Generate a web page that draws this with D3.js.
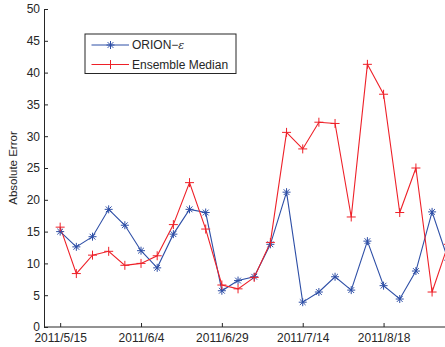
<!DOCTYPE html>
<html>
<head>
<meta charset="utf-8">
<script src="https://cdn.jsdelivr.net/npm/d3@7"></script>
<style>
  html, body { margin: 0; padding: 0; background: #fff; }
  svg { display: block; }
  text { font-family: "Liberation Sans", Arial, Helvetica, sans-serif; fill: #262626; }
</style>
</head>
<body>
<svg id="chart" width="445" height="347"></svg>
<script>
// ---- data ----
const pointIndex = d3.range(1, 26);           // observation number (x axis is index-based)
const orion = [15.0, 12.6, 14.2, 18.5, 16.0, 12.0, 9.3, 14.6, 18.5, 18.0,
               5.7, 7.3, 7.9, 13.0, 21.2, 3.9, 5.5, 7.9, 5.8, 13.5,
               6.5, 4.4, 8.8, 18.1, 10.5];
const ensembleMedian = [15.7, 8.4, 11.3, 11.9, 9.7, 10.0, 11.2, 16.1, 22.7, 15.4,
               6.6, 6.0, 7.8, 13.3, 30.6, 28.0, 32.2, 32.0, 17.3, 41.3,
               36.6, 18.0, 25.0, 5.5, 13.0];
const xTickIndex = [1, 6, 11, 16, 21];
const xTickLabels = ["2011/5/15", "2011/6/4", "2011/6/29", "2011/7/14", "2011/8/18"];
const yTicks = [0, 5, 10, 15, 20, 25, 30, 35, 40, 45, 50];
const seriesNames = ["ORION\u2212", "Ensemble Median"];

// ---- layout ----
const W = 445, H = 347;
const mLeft = 44, mBottom = 327, mTop = 9;
const step = 16.17;
const svg = d3.select("#chart");

const x = d3.scaleLinear().domain([0, 26]).range([mLeft, mLeft + 26 * step]);
const y = d3.scaleLinear().domain([0, 50]).range([mBottom, mTop]);

const blue = "#2d4ea6";
const red = "#ee2028";
const axisColor = "#262626";

svg.append("defs").append("clipPath").attr("id", "clip")
  .append("rect").attr("x", mLeft).attr("y", 0).attr("width", W - mLeft).attr("height", mBottom + 6);

// ---- axes ----
const yAxis = d3.axisLeft(y).tickValues(yTicks).tickSize(-4).tickSizeOuter(0).tickPadding(4);
const gy = svg.append("g").attr("transform", `translate(${mLeft},0)`).call(yAxis);
gy.selectAll("text").style("font-size", "12px").attr("fill", axisColor);
gy.selectAll("line, path").attr("stroke", axisColor);

const xAxis = d3.axisBottom(x).tickValues(xTickIndex)
  .tickFormat((d, i) => xTickLabels[i]).tickSize(-4).tickSizeOuter(0).tickPadding(6.5);
const gx = svg.append("g").attr("transform", `translate(0,${mBottom})`).call(xAxis);
gx.select(".domain").attr("d", `M${mLeft},0H${W}`);
gx.selectAll("text").style("font-size", "12px").attr("fill", axisColor);
gx.selectAll("line, path").attr("stroke", axisColor);

svg.append("text")
  .attr("transform", `translate(17,${(mTop + mBottom) / 2}) rotate(-90)`)
  .attr("text-anchor", "middle")
  .style("font-size", "11.5px")
  .text("Absolute Error");

// ---- marker helpers ----
function star(g, cx, cy, color) {
  const r = 4;
  const p = `M${cx - r},${cy}H${cx + r}M${cx},${cy - r}V${cy + r}` +
            `M${cx - r * 0.72},${cy - r * 0.72}L${cx + r * 0.72},${cy + r * 0.72}` +
            `M${cx - r * 0.72},${cy + r * 0.72}L${cx + r * 0.72},${cy - r * 0.72}`;
  g.append("path").attr("d", p).attr("stroke", color).attr("stroke-width", 1).attr("fill", "none");
}
function plus(g, cx, cy, color) {
  const r = 4.5;
  g.append("path").attr("d", `M${cx - r},${cy}H${cx + r}M${cx},${cy - r}V${cy + r}`)
    .attr("stroke", color).attr("stroke-width", 1).attr("fill", "none");
}

// ---- series ----
const plot = svg.append("g").attr("clip-path", "url(#clip)");
const line = d3.line().x((d, i) => x(pointIndex[i])).y(d => y(d));

plot.append("path").datum(orion).attr("d", line)
  .attr("fill", "none").attr("stroke", blue).attr("stroke-width", 1.1);
plot.append("path").datum(ensembleMedian).attr("d", line)
  .attr("fill", "none").attr("stroke", red).attr("stroke-width", 1.1);

const mb = plot.append("g");
orion.forEach((v, i) => star(mb, x(pointIndex[i]), y(v), blue));
const mr = plot.append("g");
ensembleMedian.forEach((v, i) => plus(mr, x(pointIndex[i]), y(v), red));

// ---- legend ----
const lg = svg.append("g");
lg.append("rect").attr("x", 85).attr("y", 34).attr("width", 151).attr("height", 39.5)
  .attr("fill", "#fff").attr("stroke", axisColor).attr("stroke-width", 1);
const rows = [{c: blue, m: star, y: 45}, {c: red, m: plus, y: 64.5}];
rows.forEach((r, i) => {
  lg.append("line").attr("x1", 91.5).attr("x2", 129).attr("y1", r.y).attr("y2", r.y)
    .attr("stroke", r.c).attr("stroke-width", 1);
  r.m(lg, 110.5, r.y, r.c);
  const t = lg.append("text").attr("x", 132).attr("y", r.y + 4.3).style("font-size", "12px")
    .text(seriesNames[i]);
  if (i === 0) {
    t.append("tspan").style("font-family", "'DejaVu Serif', serif").style("font-style", "italic")
      .style("font-size", "11px").text("\u03B5");
  }
});
</script>
</body>
</html>
